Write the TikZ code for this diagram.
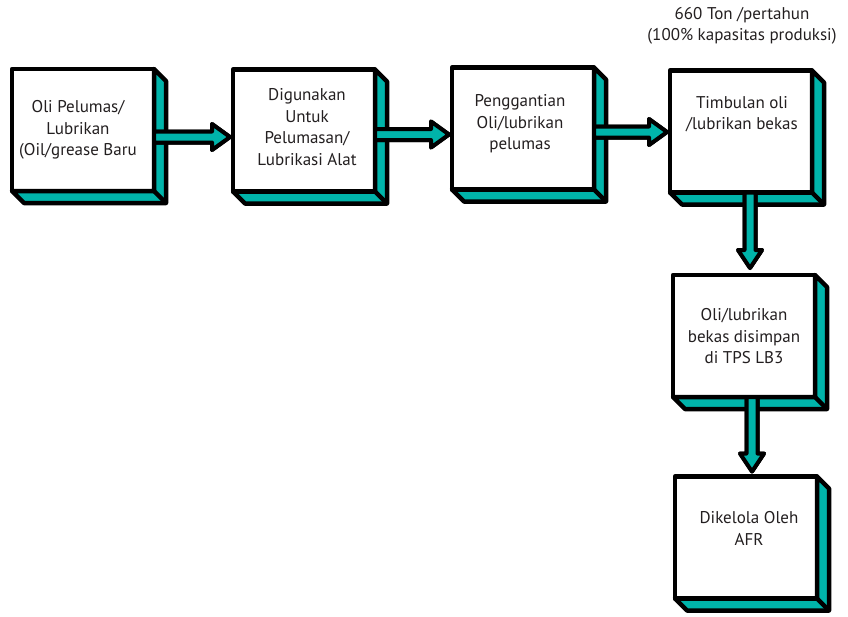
\documentclass[tikz,border=0pt]{standalone}
\usepackage{fontspec}
\setmainfont{PT Sans}
\usetikzlibrary{calc}
\definecolor{teal3d}{RGB}{0,180,170}
\definecolor{txtgray}{RGB}{35,31,32}
\tikzset{
  box/.style={draw=black, line width=4.5pt, fill=white, minimum width=142pt, minimum height=122pt, inner sep=0pt, outer sep=0pt, line join=round},
  side/.style={draw=black, line width=4.5pt, fill=teal3d, line join=round},
  arr/.style={draw=black, line width=4pt, fill=teal3d, line join=round},
  txt/.style={align=center, text=txtgray, font=\fontsize{17pt}{21.5pt}\selectfont, inner sep=0pt}
}
\newcommand{\depthbox}[1]{%
  \draw[side] (#1.north east) -- ($(#1.north east)+(12,12)$) -- ($(#1.south east)+(12,12)$) -- ($(#1.south west)+(12,12)$) -- (#1.south west) -- (#1.south east) -- cycle;
  \draw[side] (#1.south east) -- ($(#1.south east)+(12,12)$);
}
\newcommand{\harr}[3]{%
  \foreach \sh in {-5pt,0pt}{
  \draw[arr, yshift=\sh] let \p1=($(#1.east)+(0,#3)$), \p2=($(#2.west)+(-3,#3)$) in
   (\x1,\y1+5.5pt) -- (\x2-18pt,\y1+5.5pt) -- (\x2-18pt,\y1+13pt) -- (\x2,\y1) -- (\x2-18pt,\y1-13pt) -- (\x2-18pt,\y1-5.5pt) -- (\x1,\y1-5.5pt) -- cycle;}
}
\newcommand{\varr}[4]{%
  \foreach \sh in {-4pt,0pt}{
  \draw[arr, xshift=\sh] let \p1=($(#1.south)+(#3,0)$), \p2=($(#2.north)+(#3,-#4)$) in
   (\x1-5.5pt,\y1) -- (\x1-5.5pt,\y2+18pt) -- (\x1-12pt,\y2+18pt) -- (\x1,\y2) -- (\x1+12pt,\y2+18pt) -- (\x1+5.5pt,\y2+18pt) -- (\x1+5.5pt,\y1) -- cycle;}
}
\begin{document}
\begin{tikzpicture}[x=1pt, y=-1pt]
\useasboundingbox (0,0) rectangle (848,616);
% boxes
\node[box] (b1) at (83,130) {};
\node[box] (b2) at (304,130.5) {};
\node[box] (b3) at (523,128.5) {};
\node[box] (b4) at (741,131.5) {};
\node[box] (b5) at (744,336) {};
\node[box] (b6) at (746,537.5) {};
\depthbox{b1}
\depthbox{b2}
\depthbox{b3}
\depthbox{b4}
\depthbox{b5}
\depthbox{b6}
% texts
\node[txt] (t1) at (78,130) {Oli Pelumas/\\Lubrikan\\(Oil/grease Baru};
\node[txt] (t2) at (307,127) {Digunakan\\Untuk\\Pelumasan/\\Lubrikasi Alat};
\node[txt] (t3) at (520,124) {Penggantian\\Oli/lubrikan\\pelumas};
\node[txt] (t4) at (742,114) {Timbulan oli\\/lubrikan bekas};
\node[txt] (t5) at (744,336.5) {Oli/lubrikan\\bekas disimpan\\di TPS LB3};
\node[txt] (t6) at (749,528.5) {Dikelola Oleh\\AFR};
\node[txt] (cap) at (742,26) {660 Ton /pertahun\\(100\% kapasitas produksi)};
% arrows
\harr{b1}{b2}{7}
\harr{b2}{b3}{4}
\harr{b3}{b4}{3.5}
\varr{b4}{b5}{9}{7}
\varr{b5}{b6}{8}{5}
\end{tikzpicture}
\end{document}
